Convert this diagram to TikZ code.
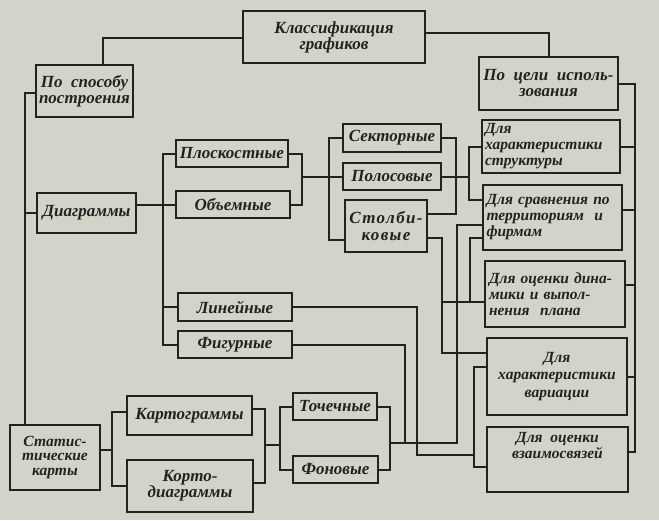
\documentclass[tikz,border=0pt]{standalone}
\usepackage{fontspec}
\setmainfont{Liberation Serif}
\usetikzlibrary{calc}
\definecolor{paper}{RGB}{212,211,202}
\definecolor{ink}{RGB}{34,34,32}
\tikzset{
  box/.style={draw=ink, line width=2pt, inner sep=2pt, font=\fontsize{17}{16}\selectfont\bfseries\itshape, text=ink, align=center},
  rbox/.style={box, font=\fontsize{15.5}{16}\selectfont\bfseries\itshape},
  wire/.style={draw=ink, line width=2pt}
}
\newcommand{\jline}[1]{\makebox[\linewidth][s]{#1}}
\begin{document}
\begin{tikzpicture}[x=1pt,y=-1pt]
\fill[paper] (0,0) rectangle (659,520);
\useasboundingbox (0,0) rectangle (659,520);
% nodes
\node[box, minimum width=182pt, minimum height=52pt] (klass) at (334,37) {Классификация\\графиков};
\node[box, minimum width=97pt, minimum height=52pt] (sposob) at (84.5,91) {По\ \ способу\\построения};
\node[box, minimum width=139pt, minimum height=53pt] (cel) at (548.5,83.5) {По\ \ цели\ \ исполь-\\зования};
\node[box, minimum width=99pt, minimum height=40pt] (diag) at (86.5,213) {Диаграммы};
\node[box, minimum width=112pt, minimum height=27pt] (plosk) at (232,153.5) {Плоскостные};
\node[box, minimum width=114pt, minimum height=27pt] (obem) at (233,204.5) {Объемные};
\node[box, minimum width=114pt, minimum height=28pt] (lin) at (235,307) {Линейные};
\node[box, minimum width=114pt, minimum height=27pt] (fig) at (235,344.5) {Фигурные};
\node[box, minimum width=98pt, minimum height=28pt] (sekt) at (392,138) {Секторные};
\node[box, minimum width=98pt, minimum height=27pt] (polos) at (392,176.5) {Полосовые};
\node[box, minimum width=82pt, minimum height=52pt, font=\fontsize{17}{17}\selectfont\bfseries\itshape\addfontfeature{LetterSpace=8}] (stolb) at (386,226) {Столби-\\ковые};
\node[rbox, minimum width=138pt, minimum height=53pt, text width=132pt, align=left] (struct) at (551,146.5) {Для\\характеристики\\структуры};
\node[rbox, minimum width=139pt, minimum height=65pt, text width=132pt, align=left] (sravn) at (552.5,217.5) {\jline{Для сравнения по}\\территориям\ \ и\\фирмам};
\node[rbox, minimum width=140pt, minimum height=66pt, text width=132pt, align=left] (dinam) at (555,294) {\jline{Для оценки дина-}\\\jline{мики и выпол-}\\нения\ \ плана};
\node[rbox, minimum width=140pt, minimum height=77pt, font=\fontsize{15.5}{17.5}\selectfont\bfseries\itshape] (variac) at (557,376.5) {Для\\характеристики\\вариации};
\node[rbox, minimum width=141pt, minimum height=65pt] (vzaim) at (557.5,459.5) {Для\ \ оценки\\взаимосвязей\\[12pt]};
\node[box, minimum width=90pt, minimum height=65pt, font=\fontsize{15.5}{14.5}\selectfont\bfseries\itshape] (statk) at (55,457.5) {Статис-\\тические\\карты};
\node[box, minimum width=125pt, minimum height=39pt] (kartogr) at (189.5,415.5) {Картограммы};
\node[box, minimum width=126pt, minimum height=52pt] (kartod) at (190,486) {Корто-\\диаграммы};
\node[box, minimum width=84pt, minimum height=27pt] (tochech) at (335,406.5) {Точечные};
\node[box, minimum width=85pt, minimum height=27pt] (fon) at (335.5,469.5) {Фоновые};
% bus coordinates
\coordinate (Lbus) at (25,0);
\coordinate (Dbus) at (163,0);
\coordinate (Pbus) at (302,0);
\coordinate (Sbus) at (329,0);
\coordinate (Rbus) at (456,0);
\coordinate (Tbus) at (469,0);
\coordinate (Ubus) at (442,0);
\coordinate (Vbus) at (470,0);
\coordinate (Wbus) at (457,0);
\coordinate (TFbus) at (390,443);
\coordinate (Xbus) at (405,0);
\coordinate (Zbus) at (417,0);
\coordinate (J2) at (474,455);
\coordinate (Ybus) at (474,0);
\coordinate (Kbus) at (635,0);
\coordinate (Mbus) at (112,0);
\coordinate (J3) at (265,445);
\coordinate (Obus) at (280,0);
% anchors with offsets
\coordinate (stolbL) at ([yshift=-14pt]stolb.west);
\coordinate (stolbR1) at ([yshift=12pt]stolb.east);
\coordinate (stolbR2) at ([yshift=-12pt]stolb.east);
\coordinate (sravnA) at ([yshift=17.5pt]sravn.west);
\coordinate (sravnB) at ([yshift=-7.5pt]sravn.west);
\coordinate (sravnC) at ([yshift=-20.5pt]sravn.west);
\coordinate (sravnR) at ([yshift=7.5pt]sravn.east);
\coordinate (dinamA) at ([yshift=-8pt]dinam.west);
\coordinate (dinamR) at ([yshift=9pt]dinam.east);
\coordinate (variacA) at ([yshift=23.5pt]variac.west);
\coordinate (variacB) at ([yshift=9.5pt]variac.west);
\coordinate (vzaimA) at ([yshift=-7.5pt]vzaim.west);
\coordinate (vzaimR) at ([yshift=7.5pt]vzaim.east);
\coordinate (statkA) at ([yshift=7.5pt]statk.east);
\coordinate (kartogrA) at ([yshift=3.5pt]kartogr.west);
\coordinate (kartogrB) at ([yshift=6.5pt]kartogr.east);
\coordinate (kartodB) at ([yshift=3pt]kartod.east);
\coordinate (klassL) at ([yshift=-1pt]klass.west);
\coordinate (klassR) at ([yshift=4pt]klass.east);
\coordinate (sposobT) at ([xshift=18.5pt]sposob.north);
\coordinate (sposobL) at ([yshift=-2pt]sposob.west);
% connectors
\draw[wire] (klassL) -| (sposobT);
\draw[wire] (klassR) -| (cel.north);
\draw[wire] (sposobL) -| (Lbus |- statk.north);
\draw[wire] (diag.west) -- (Lbus |- diag.west);
\draw[wire] (plosk.west) -| (Dbus |- fig.west) -- (fig.west);
\draw[wire] (diag.east |- obem.west) -- (obem.west);
\draw[wire] (lin.west) -- (Dbus |- lin.west);
\draw[wire] (plosk.east) -| (Pbus |- obem.east) -- (obem.east);
\draw[wire] (Pbus |- polos.west) -- (polos.west);
\draw[wire] (sekt.west) -| (Sbus |- stolbL) -- (stolbL);
\draw[wire] (sekt.east) -| (Rbus |- stolbR1) -- (stolbR1);
\draw[wire] (polos.east) -- (Tbus |- polos.east);
\draw[wire] (struct.west) -| (Tbus |- sravnA) -- (sravnA);
\draw[wire] (stolbR2) -| (Ubus |- variacA) -- (variacA);
\draw[wire] (Ubus |- dinamA) -- (dinamA);
\draw[wire] (sravnC) -| (Vbus |- dinamA);
\draw[wire] (tochech.east) -| (TFbus |- fon.east) -- (fon.east);
\draw[wire] (sravnB) -| (Wbus |- TFbus) -- (TFbus);
\draw[wire] (fig.east) -| (Xbus |- TFbus);
\draw[wire] (lin.east) -| (Zbus |- J2) -- (J2);
\draw[wire] (variacB) -| (Ybus |- vzaimA) -- (vzaimA);
\draw[wire] (cel.east) -| (Kbus |- vzaimR) -- (vzaimR);
\draw[wire] (struct.east) -- (Kbus |- struct.east);
\draw[wire] (sravnR) -- (Kbus |- sravnR);
\draw[wire] (dinamR) -- (Kbus |- dinamR);
\draw[wire] (variac.east) -- (Kbus |- variac.east);
\draw[wire] (statkA) -- (Mbus |- statkA);
\draw[wire] (kartogrA) -| (Mbus |- kartod.west) -- (kartod.west);
\draw[wire] (kartogrB) -| (J3 |- kartodB) -- (kartodB);
\draw[wire] (J3) -- (Obus |- J3);
\draw[wire] (tochech.west) -| (Obus |- fon.west) -- (fon.west);
\end{tikzpicture}
\end{document}
